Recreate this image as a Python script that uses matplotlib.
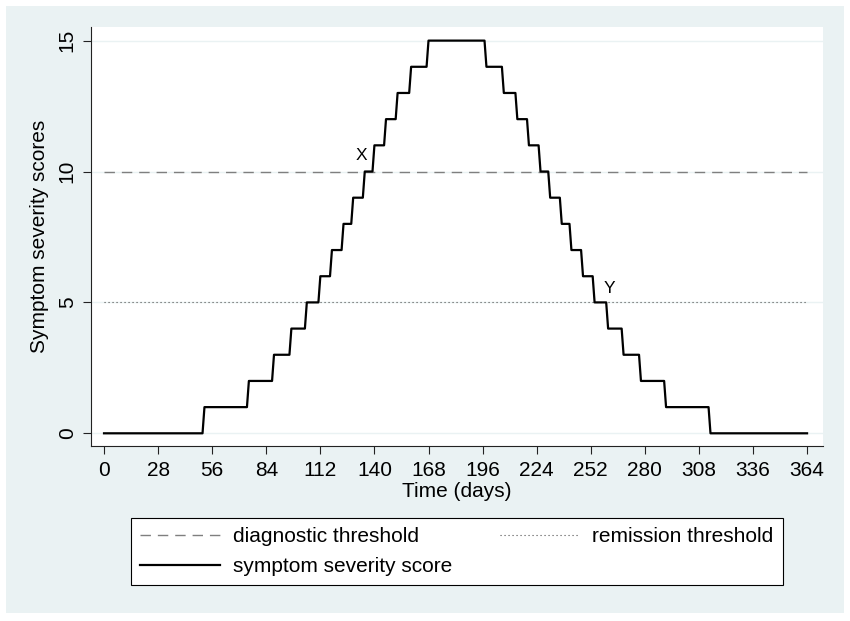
import matplotlib
matplotlib.use("Agg")
import matplotlib.pyplot as plt
from matplotlib.patches import Rectangle

plt.rcParams['font.family'] = ['Liberation Sans', 'DejaVu Sans']

# first day at each new level while the score climbs / falls
rise_days = [52, 75, 88, 97, 105, 112, 118, 124, 129, 135, 140, 146, 152, 159, 168]
fall_days = [198, 207, 214, 220, 226, 231, 237, 242, 248, 254, 261, 269, 278, 291, 314]
start_day = 0
end_day = 364
diagnostic_threshold = 10
remission_threshold = 5
x_ticks = list(range(0, 365, 28))
y_ticks = [0, 5, 10, 15]

# build the step line (each change takes one day)
days = [start_day]
scores = [0]
level = 0
for d in rise_days:
    days += [d - 1, d]
    scores += [level, level + 1]
    level += 1
for d in fall_days:
    days += [d - 1, d]
    scores += [level, level - 1]
    level -= 1
days.append(end_day)
scores.append(level)

bg = '#EAF2F3'
fig = plt.figure(figsize=(8.5, 6.21), dpi=100)
fig.patch.set_facecolor('white')
fig.patches.append(Rectangle((6 / 850, 8 / 621), 838 / 850, 607 / 621,
                             transform=fig.transFigure, facecolor=bg,
                             edgecolor='none', zorder=-10))

ax = fig.add_axes([90.7 / 850, 1 - 446 / 621, 732 / 850, 419 / 621])
ax.set_facecolor('white')

for t in y_ticks:
    ax.axhline(t, color=bg, lw=1.0, zorder=0)

h_diag = ax.hlines(diagnostic_threshold, days[0], days[-1], colors='#7f7f7f', lw=1.0,
                   linestyles=(0, (7.5, 5)), label='diagnostic threshold', zorder=2)
h_rem = ax.hlines(remission_threshold, days[0], days[-1], colors='#4d4d4d', lw=0.8,
                  linestyles=(0, (1, 2.6)), label='remission threshold', zorder=2)
h_score, = ax.plot(days, scores, color='black', lw=1.6,
                   label='symptom severity score', zorder=3)

ax.annotate('X', (rise_days[9], diagnostic_threshold), xytext=(-2.7, 11.4),
            textcoords='offset points', ha='center', va='center', fontsize=12.5)
ax.annotate('Y', (fall_days[9], remission_threshold), xytext=(10.3, 10.2),
            textcoords='offset points', ha='center', va='center', fontsize=12.5)

ax.set_xlim(-6.9, 372.1)
ax.set_ylim(-0.485, 15.52)
ax.set_xticks(x_ticks)
ax.set_yticks(y_ticks)
ax.tick_params(axis='both', length=6, width=0.8, labelsize=15, color='#222222')
ax.tick_params(axis='x', pad=5)
ax.tick_params(axis='y', pad=4)
for lab in ax.get_yticklabels():
    lab.set_rotation(90)
    lab.set_va('center')
ax.spines['top'].set_visible(False)
ax.spines['right'].set_visible(False)
for s in ('left', 'bottom'):
    ax.spines[s].set_linewidth(0.8)
    ax.spines[s].set_color('#222222')

ax.set_xlabel('Time (days)', fontsize=15, labelpad=1)
ax.set_ylabel('Symptom severity scores', fontsize=15, labelpad=6)

handles = [h_diag, h_score, h_rem]
labels = [h.get_label() for h in handles]
leg = fig.legend(handles, labels, ncol=2, mode='expand', loc='upper left',
                 bbox_to_anchor=(131 / 850, 1 - 585 / 621, 652 / 850, 67 / 621),
                 fontsize=15, frameon=True, fancybox=False, framealpha=1,
                 edgecolor='black', handlelength=3.8, handletextpad=0.63,
                 borderpad=0.45, labelspacing=0.5, borderaxespad=0)
leg.get_frame().set_linewidth(0.8)

fig.savefig('out.png', dpi=100, facecolor=fig.get_facecolor())
